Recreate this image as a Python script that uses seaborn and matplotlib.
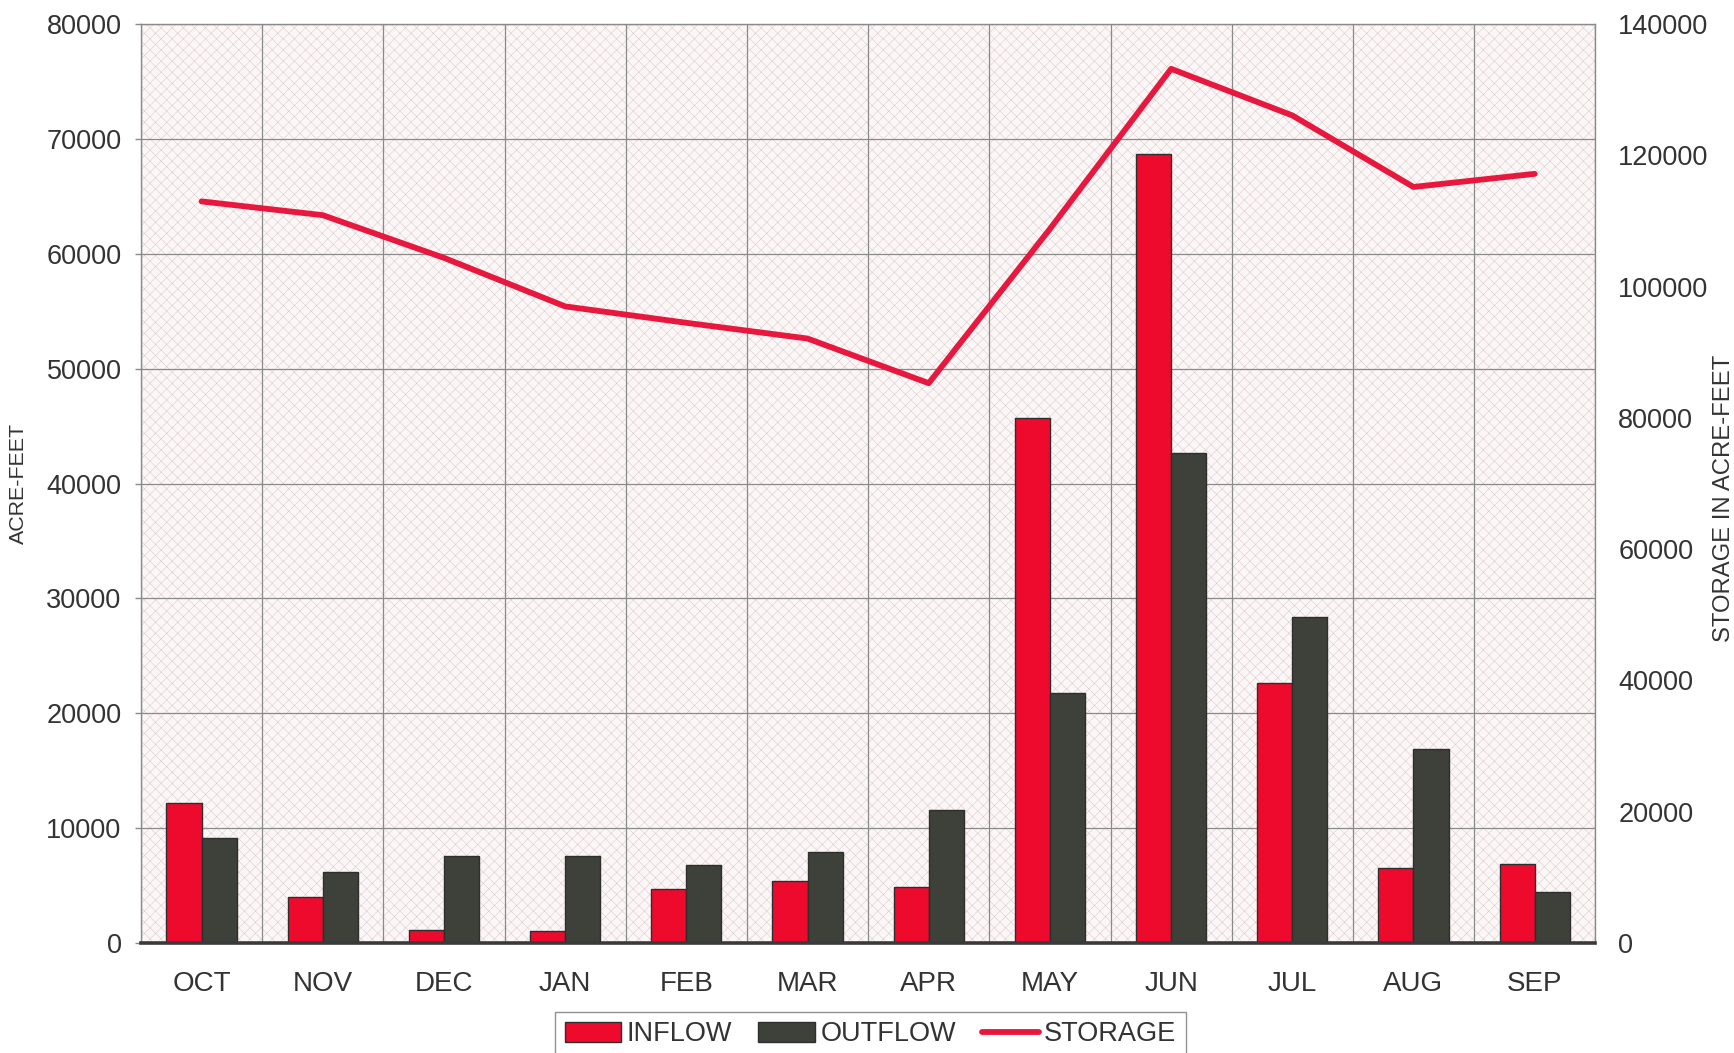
import numpy as np
import pandas as pd
import matplotlib
matplotlib.use("Agg")
import matplotlib.pyplot as plt
from matplotlib.patches import Patch
from matplotlib.lines import Line2D
import seaborn as sns

# ---------------- data ----------------
months = ["OCT", "NOV", "DEC", "JAN", "FEB", "MAR", "APR", "MAY", "JUN", "JUL", "AUG", "SEP"]
inflow = [12200, 4000, 1150, 1000, 4700, 5400, 4900, 45700, 68700, 22600, 6500, 6900]
outflow = [9100, 6200, 7600, 7600, 6800, 7900, 11600, 21800, 42700, 28400, 16900, 4400]
storage = [113000, 110900, 104400, 97000, 94500, 92100, 85300, 108800, 133200, 126100, 115200, 117200]

left_ticks = [0, 10000, 20000, 30000, 40000, 50000, 60000, 70000, 80000]
right_ticks = [0, 20000, 40000, 60000, 80000, 100000, 120000, 140000]

series_names = ["INFLOW", "OUTFLOW"]
storage_name = "STORAGE"
left_label = "ACRE-FEET"
right_label = "STORAGE IN ACRE-FEET"

# ---------------- style ----------------
sns.set_style("white")
plt.rcParams["font.family"] = ["Liberation Sans", "DejaVu Sans"]
plt.rcParams["hatch.linewidth"] = 0.35

red = "#ee0a2c"
dark = "#3d4139"
line_red = "#e8173e"
text_col = "#333333"
grid_col = "#8a8a8a"

df = pd.DataFrame({
    "month": months * 2,
    "value": inflow + outflow,
    "series": [series_names[0]] * len(months) + [series_names[1]] * len(months),
})

fig = plt.figure(figsize=(17.34, 10.53), dpi=100)
ax = fig.add_axes([0.0813, 0.1045, 0.92 - 0.0813, 0.977 - 0.1045])

# hatched pinkish background
ax.patch.set_facecolor("#fdf6f6")
ax.patch.set_edgecolor("#d4caca")
ax.patch.set_hatch("xxx")
ax.patch.set_linewidth(0)

sns.barplot(data=df, x="month", y="value", hue="series", order=months,
            hue_order=series_names, palette=[red, dark], width=0.58,
            saturation=1, edgecolor="#2e2e2e", linewidth=1.0, ax=ax,
            legend=False, zorder=3)

ax.set_xlim(-0.5, len(months) - 0.5)
ax.set_ylim(left_ticks[0], left_ticks[-1])
ax.set_yticks(left_ticks)
ax.set_yticklabels([str(t) for t in left_ticks])
ax.set_xticks(np.arange(-0.5, len(months), 1), minor=True)
ax.set_axisbelow(True)
ax.grid(False)
ax.yaxis.grid(True, which="major", color=grid_col, lw=0.9)
ax.xaxis.grid(True, which="minor", color=grid_col, lw=0.9)
ax.set_xlabel("")
ax.set_ylabel(left_label, fontsize=15.4, color=text_col)
ax.yaxis.set_label_coords(-0.0777, 0.5)

ax.tick_params(axis="x", which="major", length=0, pad=20, labelsize=20, labelcolor=text_col)
ax.tick_params(axis="x", which="minor", length=9, width=1, color=grid_col, direction="out")
ax.tick_params(axis="y", which="major", length=4, width=1, color=grid_col, pad=10,
               labelsize=19.5, labelcolor=text_col, direction="out", left=True)

for s in ["top", "left", "right"]:
    ax.spines[s].set_color(grid_col)
    ax.spines[s].set_linewidth(1.0)
ax.spines["bottom"].set_color("#3a3a3a")
ax.spines["bottom"].set_linewidth(2.6)
ax.spines["bottom"].set_zorder(4)

# storage line on right axis
ax2 = ax.twinx()
sns.lineplot(x=months, y=storage, ax=ax2, color=line_red, lw=4.2, sort=False,
             solid_capstyle="round", solid_joinstyle="round")
ax2.set_ylim(right_ticks[0], right_ticks[-1])
ax2.set_yticks(right_ticks)
ax2.set_yticklabels([str(t) for t in right_ticks])
ax2.grid(False)
ax2.tick_params(axis="y", length=0, pad=16.5, labelsize=19.5, labelcolor=text_col)
for s in ax2.spines.values():
    s.set_visible(False)
ax2.set_ylabel(right_label, fontsize=17.2, color=text_col)
ax2.yaxis.set_label_coords(1.081, 0.484)

handles = [
    Patch(facecolor=red, edgecolor="#2e2e2e", linewidth=1.0, label=series_names[0]),
    Patch(facecolor=dark, edgecolor="#2e2e2e", linewidth=1.0, label=series_names[1]),
    Line2D([0], [0], color=line_red, lw=4.2, label=storage_name),
]
leg = fig.legend(handles=handles, loc="upper center", bbox_to_anchor=(0.502, 0.039),
                 ncol=3, frameon=True, fancybox=False, fontsize=19.5,
                 handlelength=2.1, handleheight=0.75, handletextpad=0.2,
                 columnspacing=0.95, borderpad=0.35, borderaxespad=0)
leg.get_frame().set_edgecolor("#777777")
leg.get_frame().set_linewidth(1.0)
for t in leg.get_texts():
    t.set_color(text_col)

fig.savefig("out.png", dpi=100)
